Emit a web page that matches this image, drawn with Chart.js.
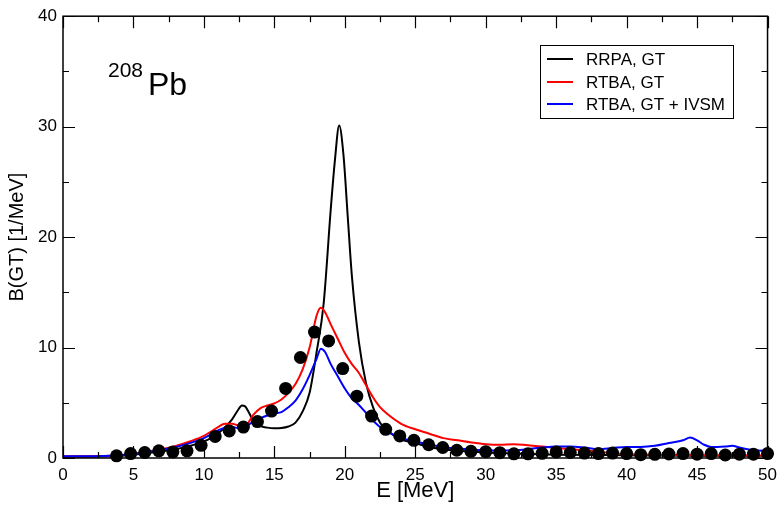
<!DOCTYPE html>
<html>
<head>
<meta charset="utf-8">
<script src="https://cdn.jsdelivr.net/npm/chart.js@4/dist/chart.umd.min.js"></script>
<style>
  html, body { margin: 0; padding: 0; background: #fff; }
  #wrap { width: 784px; height: 506px; }
</style>
</head>
<body>
<div id="wrap"><canvas id="c" width="784" height="506"></canvas></div>
<script>
// ---- data ----
const xTickLabels = [0, 5, 10, 15, 20, 25, 30, 35, 40, 45, 50];
const yTickLabels = [0, 10, 20, 30, 40];
const xMinorTicks = [2.5, 7.5, 12.5, 17.5, 22.5, 27.5, 32.5, 37.5, 42.5, 47.5];
const yMinorTicks = [5, 15, 25, 35];

const seriesLabels = ["RRPA, GT", "RTBA, GT", "RTBA, GT + IVSM"];

const rrpaE = [0,2,4,5,6,7,8,9,10,10.5,11,11.5,12,12.4,12.7,12.9,13.2,13.5,14,14.5,15,15.5,16,16.5,17,17.5,18,18.5,19,19.3,19.6,19.9,20.2,20.5,21,21.5,22,22.5,23,24,25,26,27,28,30,32,35,40,45,50];
const rrpaB = [0.1,0.12,0.2,0.3,0.45,0.6,0.8,1.1,1.5,1.8,2.2,2.8,3.5,4.3,4.75,4.7,4.1,3.4,2.9,2.75,2.7,2.72,2.85,3.2,4.2,5.9,9.6,14.0,22.5,27,30.1,27.5,22,16.5,10.5,6.8,4.6,3.2,2.5,1.7,1.35,1.0,0.8,0.65,0.5,0.4,0.3,0.25,0.2,0.2];

const rtbaE = [0,2,4,5,6,7,8,9,10,10.5,11,11.5,12,12.5,13,13.5,14,14.5,15,15.5,16,16.5,17,17.5,18,18.3,18.6,19,19.5,20,20.5,21,21.5,22,22.5,23,24,25,26,27,28,29,30,31,32,33,34,35,36,37,38,39,40,42,45,50];
const rtbaB = [0.15,0.15,0.25,0.4,0.6,0.8,1.1,1.5,2.0,2.4,2.8,3.1,3.1,2.95,3.0,3.9,4.5,4.75,4.95,5.3,5.9,6.7,8.0,10.0,12.9,13.6,13.2,12.1,10.8,9.5,8.5,7.7,6.6,5.5,4.6,4.0,3.1,2.6,2.2,1.8,1.6,1.4,1.25,1.2,1.25,1.15,1.05,0.9,0.8,0.7,0.55,0.45,0.35,0.3,0.25,0.2];

const ivsmE = [0,2,4,5,6,7,8,9,10,10.5,11,11.5,12,12.5,13,13.5,14,14.5,15,15.5,16,16.5,17,17.5,18,18.3,18.6,19,19.5,20,20.5,21,21.5,22,22.5,23,24,25,26,27,28,29,30,31,32,33,34,35,36,37,38,39,40,41,42,43,44,44.5,45,45.5,46,47,47.5,48,49,50];
const ivsmB = [0.15,0.15,0.25,0.35,0.55,0.75,1.0,1.35,1.8,2.15,2.5,2.75,2.8,2.7,2.85,3.3,3.6,3.85,4.05,4.15,4.6,5.2,6.2,7.5,9.0,9.9,9.6,8.5,7.4,6.3,5.4,4.8,4.1,3.4,2.8,2.4,1.8,1.5,1.2,1.0,0.85,0.75,0.7,0.68,0.7,0.8,0.95,1.05,1.05,0.95,0.8,0.9,1.0,1.0,1.1,1.35,1.6,1.85,1.6,1.2,1.0,1.05,1.1,0.95,0.7,0.65];

const expE = [3.8,4.8,5.8,6.8,7.8,8.8,9.8,10.8,11.8,12.8,13.8,14.8,15.8,16.85,17.85,18.85,19.85,20.85,21.9,22.9,23.9,24.9,25.95,26.95,27.95,28.95,30,31,32,33,34,35,36,37,38,39,40,41,42,43,44,45,46,47,48,49,50];
const expB = [0.2,0.4,0.5,0.65,0.55,0.65,1.15,1.95,2.45,2.8,3.3,4.25,6.3,9.1,11.4,10.6,8.1,5.6,3.8,2.6,2.0,1.6,1.2,0.95,0.7,0.6,0.57,0.48,0.38,0.38,0.42,0.55,0.5,0.45,0.4,0.45,0.4,0.3,0.33,0.36,0.4,0.35,0.4,0.27,0.35,0.35,0.4];

const FONT = "'Liberation Sans', Arial, Helvetica, sans-serif";

function pts(xs, ys) { return xs.map((x, i) => ({ x: x, y: ys[i] })); }

const framePlugin = {
  id: 'frameTicks',
  afterDatasetsDraw(chart) {
    const ctx = chart.ctx;
    const ca = chart.chartArea;
    const xs = chart.scales.x, ys = chart.scales.y;
    ctx.save();
    ctx.strokeStyle = '#000';
    ctx.lineWidth = 1.5;
    ctx.strokeRect(ca.left, ca.top, ca.right - ca.left, ca.bottom - ca.top);
    ctx.lineWidth = 1.2;
    const MAJ = 12, MIN = 6;
    ctx.beginPath();
    xTickLabels.forEach(v => {
      const p = Math.round(xs.getPixelForValue(v)) + 0.5;
      ctx.moveTo(p, ca.bottom); ctx.lineTo(p, ca.bottom - MAJ);
      ctx.moveTo(p, ca.top); ctx.lineTo(p, ca.top + MAJ);
    });
    xMinorTicks.forEach(v => {
      const p = Math.round(xs.getPixelForValue(v)) + 0.5;
      ctx.moveTo(p, ca.bottom); ctx.lineTo(p, ca.bottom - MIN);
      ctx.moveTo(p, ca.top); ctx.lineTo(p, ca.top + MIN);
    });
    yTickLabels.forEach(v => {
      const p = Math.round(ys.getPixelForValue(v)) + 0.5;
      ctx.moveTo(ca.left, p); ctx.lineTo(ca.left + MAJ, p);
      ctx.moveTo(ca.right, p); ctx.lineTo(ca.right - MAJ, p);
    });
    yMinorTicks.forEach(v => {
      const p = Math.round(ys.getPixelForValue(v)) + 0.5;
      ctx.moveTo(ca.left, p); ctx.lineTo(ca.left + MIN, p);
      ctx.moveTo(ca.right, p); ctx.lineTo(ca.right - MIN, p);
    });
    ctx.stroke();
    ctx.restore();
  },
  afterDraw(chart) {
    const ctx = chart.ctx;
    ctx.save();
    // legend box
    ctx.fillStyle = '#fff';
    ctx.fillRect(540, 45, 193, 73);
    ctx.strokeStyle = '#000';
    ctx.lineWidth = 1;
    ctx.strokeRect(540.5, 45.5, 193, 73);
    const rows = [59, 82, 104];
    ctx.font = '17px ' + FONT;
    ctx.textBaseline = 'middle';
    ctx.textAlign = 'left';
    for (let i = 0; i < 3; i++) {
      const ds = chart.data.datasets[i];
      ctx.strokeStyle = ds.borderColor;
      ctx.lineWidth = 2;
      ctx.beginPath();
      ctx.moveTo(547, rows[i]); ctx.lineTo(573, rows[i]);
      ctx.stroke();
      ctx.fillStyle = '#000';
      ctx.fillText(ds.label, 586, rows[i] + 1);
    }
    // nucleus annotation
    ctx.fillStyle = '#000';
    ctx.textBaseline = 'alphabetic';
    ctx.font = '21px ' + FONT;
    ctx.fillText('208', 108, 77);
    ctx.font = '32px ' + FONT;
    ctx.fillText('Pb', 148, 95);
    ctx.restore();
  }
};

new Chart(document.getElementById('c'), {
  type: 'scatter',
  data: {
    datasets: [
      { label: seriesLabels[0], data: pts(rrpaE, rrpaB), showLine: true, borderColor: '#000000',
        borderWidth: 2, pointRadius: 0, cubicInterpolationMode: 'monotone', order: 3 },
      { label: seriesLabels[1], data: pts(rtbaE, rtbaB), showLine: true, borderColor: '#ff0000',
        borderWidth: 2, pointRadius: 0, cubicInterpolationMode: 'monotone', order: 2 },
      { label: seriesLabels[2], data: pts(ivsmE, ivsmB), showLine: true, borderColor: '#0000ff',
        borderWidth: 2, pointRadius: 0, cubicInterpolationMode: 'monotone', order: 1 },
      { label: 'exp', data: pts(expE, expB), showLine: false, backgroundColor: '#000', borderColor: '#000',
        pointRadius: 6.5, borderWidth: 0, order: 0, clip: false }
    ]
  },
  options: {
    responsive: false,
    animation: false,
    events: [],
    layout: { padding: { top: 14, right: 14, left: 0, bottom: 0 } },
    plugins: { legend: { display: false }, tooltip: { enabled: false } },
    scales: {
      x: {
        type: 'linear', min: 0, max: 50,
        afterBuildTicks(s) { s.ticks = xTickLabels.map(v => ({ value: v })); },
        afterFit(s) { s.height = 48; },
        grid: { display: false, drawTicks: false },
        border: { display: false },
        ticks: { color: '#000', font: { family: FONT, size: 17 }, padding: 7, maxRotation: 0 },
        title: { display: true, text: 'E [MeV]', color: '#000', font: { family: FONT, size: 22 }, padding: { top: 0, bottom: 2 } }
      },
      y: {
        type: 'linear', min: 0, max: 40,
        afterBuildTicks(s) { s.ticks = yTickLabels.map(v => ({ value: v })); },
        afterFit(s) { s.width = 63; },
        grid: { display: false, drawTicks: false },
        border: { display: false },
        ticks: { color: '#000', font: { family: FONT, size: 17 }, padding: 6 },
        title: { display: true, text: 'B(GT) [1/MeV]', color: '#000', font: { family: FONT, size: 20 }, padding: { top: 5, bottom: 0 } }
      }
    }
  },
  plugins: [framePlugin]
});
</script>
</body>
</html>
